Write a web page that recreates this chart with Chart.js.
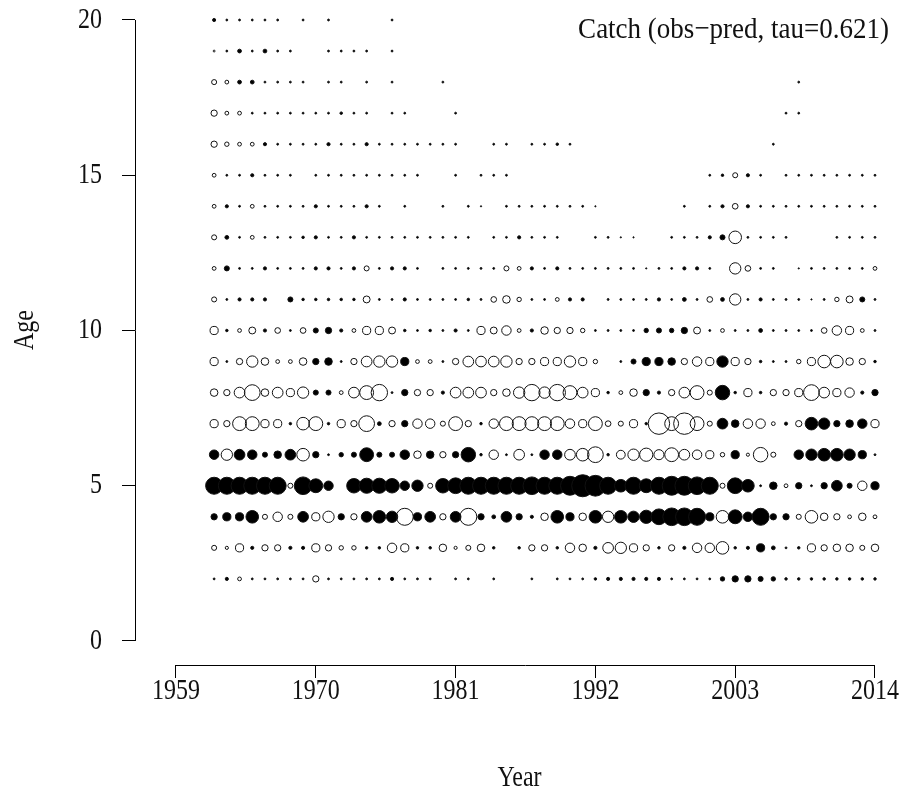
<!DOCTYPE html>
<html>
<head>
<meta charset="utf-8">
<script src="https://cdn.jsdelivr.net/npm/chart.js@4.4.1/dist/chart.umd.min.js"></script>
<style>
  html, body { margin: 0; padding: 0; background: #fff; }
  #wrap { width: 904px; height: 793px; }
</style>
</head>
<body>
<div id="wrap"><canvas id="c" width="904" height="793"></canvas></div>
<script>
// Catch-at-age residuals (obs - pred); open circles positive, filled negative.
const FIRST_YEAR = 1962;            // column 0 of every age row, one column per year to 2014
const yearTicks = [1959, 1970, 1981, 1992, 2003, 2014];
const ageTicks = [0, 5, 10, 15, 20];
const ages = [2, 3, 4, 5, 6, 7, 8, 9, 10, 11, 12, 13, 14, 15, 16, 17, 18, 19, 20];
const _ = null;

const age2 = [
  -0.3,-0.5,0.6,-0.3,-0.3,-0.3,-0.3,-0.3,1.0,-0.3,
  -0.3,-0.3,-0.3,-0.3,-0.5,-0.3,-0.3,-0.3,_,-0.3,
  -0.3,_,-0.3,_,_,-0.3,_,-0.3,-0.3,-0.3,
  -0.4,-0.5,-0.5,-0.5,-0.5,-0.5,-0.3,-0.3,-0.3,-0.3,
  -0.7,-1.0,-1.0,-0.8,-0.7,-0.4,-0.4,-0.4,-0.4,-0.4,
  -0.4,-0.4,-0.4];
const age3 = [
  0.8,0.5,1.3,-0.5,1.0,1.0,-0.5,-0.5,1.3,1.0,
  0.7,0.7,-0.4,-0.4,1.5,1.3,-0.4,-0.4,1.2,0.5,
  0.8,1.2,-0.4,_,-0.4,1.0,1.0,-0.4,1.5,1.2,
  -0.5,1.7,1.8,1.3,1.0,-0.4,1.0,-0.5,1.5,1.5,
  2.0,-0.4,-0.5,-1.3,-0.6,-0.3,-0.4,1.3,1.0,1.2,
  1.2,0.8,1.2];
const age4 = [
  -1.0,-1.3,-1.3,-2.0,0.8,1.5,0.8,-1.7,1.3,1.8,
  -1.0,1.0,-1.7,-2.0,-1.8,2.7,-1.3,-1.7,1.0,-1.7,
  2.7,-1.0,-0.6,-1.7,-1.0,-0.5,1.2,-2.0,-1.3,1.2,
  -2.0,1.8,-2.0,-1.8,-2.1,-2.5,-2.8,-2.8,-2.7,-1.3,
  2.0,-2.2,-1.5,-2.7,-1.0,-1.0,0.8,2.0,1.2,1.0,
  0.6,1.2,0.6];
const age5 = [
  -2.7,-2.7,-2.7,-2.7,-2.7,-2.7,0.8,-2.8,-2.2,-1.5,
  _,-2.3,-2.4,-2.4,-2.3,-1.5,-1.8,0.8,-2.3,-2.5,
  -2.7,-2.7,-2.7,-2.7,-2.7,-2.8,-2.7,-2.7,-3.0,-3.5,
  -3.3,-2.7,-2.0,-2.7,-2.2,-2.7,-3.0,-3.0,-2.8,-2.7,
  0.8,-2.5,-2.0,-0.3,-1.2,0.6,-1.0,-0.3,-1.0,-1.7,
  -0.8,1.5,-1.3];
const age6 = [
  -1.5,1.8,-1.7,-1.5,-0.8,-1.2,-1.7,2.0,-1.0,-0.3,
  -0.7,-0.8,-2.2,-0.8,-0.8,-1.5,1.2,-1.2,1.0,-1.0,
  -2.3,-0.4,1.5,-0.3,1.7,-0.3,-1.5,-1.5,1.7,2.0,
  2.5,-0.4,1.4,1.8,2.1,1.6,2.2,1.7,1.5,1.3,
  0.7,-1.3,0.5,2.3,0.8,_,-1.5,-1.8,-2.0,-2.0,
  -1.8,-1.3,-0.3];
const age7 = [
  1.3,1.0,2.2,2.2,1.3,1.3,-0.4,2.0,2.2,-0.4,
  1.3,1.0,2.5,-0.6,1.0,-1.0,1.5,1.5,0.8,2.2,
  1.0,-0.4,1.5,2.2,2.2,2.2,2.2,2.2,1.5,1.3,
  2.2,0.9,0.8,1.3,-0.4,3.4,2.2,3.4,2.2,0.8,
  -1.7,-1.2,1.5,1.5,0.6,-0.5,1.0,-2.0,-1.8,-1.0,
  -1.2,-1.5,1.3];
const age8 = [
  1.2,1.0,1.7,2.5,1.2,1.7,1.3,1.8,-0.8,-0.8,
  0.6,1.7,2.2,2.6,-0.3,-1.0,1.0,1.0,-0.5,1.7,
  1.7,1.7,1.0,1.2,1.8,2.6,1.8,2.6,2.2,1.7,
  1.3,-0.4,0.6,1.2,-1.0,-0.5,1.0,1.7,2.2,0.8,
  -2.3,-0.4,1.3,-0.4,1.0,1.0,1.3,2.5,1.7,1.3,
  1.5,-0.5,-1.0];
const age9 = [
  1.3,-0.3,1.0,1.8,1.2,0.6,0.6,1.2,-1.0,-1.2,
  -0.3,1.0,1.7,1.8,1.8,-1.3,0.6,0.6,-0.3,1.0,
  1.7,1.7,1.7,1.8,1.0,1.0,1.3,1.3,1.8,1.3,
  0.7,_,-0.3,-0.8,-1.3,-1.3,-1.2,1.0,1.5,1.3,
  -1.8,1.3,1.0,-0.4,-0.3,-0.3,0.7,1.3,2.0,2.0,
  1.2,1.0,-0.4];
const age10 = [
  1.3,-0.4,0.6,1.1,-0.5,0.9,-0.3,0.9,-0.8,-1.0,
  -0.5,0.6,1.3,1.3,1.1,-0.4,-0.3,-0.4,-0.3,-0.5,
  -0.3,1.3,1.1,1.5,0.6,-0.5,1.2,1.0,1.0,0.7,
  -0.3,-0.3,-0.3,-0.3,-0.7,-0.8,-0.7,-1.0,1.1,-0.3,
  0.6,-0.3,-0.3,-0.6,-0.3,-0.3,-0.3,-0.3,0.9,1.5,
  1.3,0.6,-0.3];
const age11 = [
  0.8,-0.3,-0.5,-0.5,-0.5,_,-0.8,-0.4,-0.4,-0.4,
  -0.4,-0.4,1.1,-0.3,-0.3,-0.5,-0.3,-0.3,-0.3,-0.3,
  -0.4,-0.3,0.9,1.2,0.7,-0.3,-0.3,0.6,-0.5,-0.5,
  _,-0.3,-0.3,-0.3,-0.3,-0.5,-0.3,-0.6,-0.3,0.9,
  -0.6,1.8,-0.3,-0.5,-0.3,-0.3,-0.3,-0.2,-0.3,0.7,
  1.1,-0.8,-0.3];
const age12 = [
  0.6,-0.8,-0.3,-0.3,-0.5,-0.3,-0.3,-0.3,-0.5,-0.5,
  -0.3,-0.5,0.8,-0.3,-0.5,-0.5,-0.3,_,-0.3,-0.3,
  -0.3,-0.3,-0.3,0.8,0.6,-0.5,-0.3,-0.5,-0.3,-0.3,
  -0.3,-0.3,-0.3,-0.3,-0.2,-0.3,-0.3,-0.5,-0.5,-0.3,
  _,1.8,0.9,-0.3,-0.3,_,-0.2,-0.3,-0.3,-0.3,
  -0.3,-0.3,0.6];
const age13 = [
  0.8,-0.6,-0.3,0.6,-0.3,-0.3,-0.3,-0.4,-0.5,-0.3,
  -0.3,-0.5,-0.3,-0.3,-0.3,-0.3,-0.3,-0.3,-0.3,-0.3,
  -0.3,_,-0.3,-0.3,-0.5,-0.3,-0.3,-0.3,_,_,
  -0.3,-0.3,-0.2,-0.2,_,_,-0.3,-0.3,-0.3,-0.5,
  -0.8,2.0,-0.3,-0.3,-0.3,-0.3,_,_,_,-0.3,
  -0.3,-0.3,-0.3];
const age14 = [
  0.6,-0.5,-0.3,0.6,-0.3,-0.3,-0.3,-0.3,-0.5,-0.3,
  -0.3,-0.3,-0.5,-0.3,_,-0.3,_,_,-0.3,_,
  -0.3,-0.2,_,-0.3,-0.3,-0.3,-0.3,-0.3,-0.3,-0.3,
  -0.2,_,_,_,_,_,_,-0.3,_,-0.3,
  -0.5,0.9,-0.5,-0.3,-0.3,-0.3,-0.3,-0.3,-0.3,-0.3,
  -0.3,-0.3,-0.3];
const age15 = [
  0.6,-0.3,-0.3,-0.5,-0.3,-0.3,-0.3,_,-0.3,-0.3,
  -0.3,-0.3,-0.3,-0.3,-0.3,-0.3,-0.3,_,_,-0.3,
  _,-0.3,-0.3,-0.3,_,_,_,_,_,_,
  _,_,_,_,_,_,_,_,_,-0.3,
  -0.4,0.8,-0.5,-0.3,_,-0.3,-0.3,-0.3,-0.3,-0.3,
  -0.3,-0.3,-0.3];
const age16 = [
  1.0,0.7,0.6,0.6,-0.5,-0.3,-0.3,-0.3,-0.3,-0.5,
  -0.3,-0.3,-0.5,-0.3,-0.3,-0.3,-0.3,-0.3,-0.3,-0.3,
  _,_,-0.3,-0.3,_,-0.3,-0.3,-0.4,-0.3,_,
  _,_,_,_,_,_,_,_,_,_,
  _,_,_,_,-0.3,_,_,_,_,_,
  _,_,_];
const age17 = [
  1.0,0.6,0.6,-0.3,-0.3,-0.3,-0.3,-0.3,-0.3,-0.3,
  -0.4,-0.3,-0.3,_,-0.3,-0.3,_,_,_,-0.3,
  _,_,_,_,_,_,_,_,_,_,
  _,_,_,_,_,_,_,_,_,_,
  _,_,_,_,_,-0.3,-0.3,_,_,_,
  _,_,_];
const age18 = [
  0.8,0.6,-0.6,-0.6,-0.3,-0.3,-0.3,-0.3,_,-0.3,
  -0.3,_,-0.3,_,-0.3,_,_,_,-0.3,_,
  _,_,_,_,_,_,_,_,_,_,
  _,_,_,_,_,_,_,_,_,_,
  _,_,_,_,_,_,-0.3,_,_,_,
  _,_,_];
const age19 = [
  0.3,-0.3,-0.6,-0.3,-0.6,-0.3,-0.3,_,_,-0.3,
  -0.3,-0.3,-0.3,_,-0.3,_,_,_,_,_,
  _,_,_,_,_,_,_,_,_,_,
  _,_,_,_,_,_,_,_,_,_,
  _,_,_,_,_,_,_,_,_,_,
  _,_,_];
const age20 = [
  -0.5,-0.3,-0.3,-0.3,-0.3,-0.3,_,-0.3,_,-0.3,
  _,_,_,_,-0.3,_,_,_,_,_,
  _,_,_,_,_,_,_,_,_,_,
  _,_,_,_,_,_,_,_,_,_,
  _,_,_,_,_,_,_,_,_,_,
  _,_,_];

const residRows = [age2, age3, age4, age5, age6, age7, age8, age9, age10, age11,
                   age12, age13, age14, age15, age16, age17, age18, age19, age20];

const points = [];
residRows.forEach((row, k) => {
  row.forEach((v, i) => {
    if (v !== null) points.push({ x: FIRST_YEAR + i, y: ages[k], v });
  });
});

// bubble radius grows with |residual|
const bubbleRadius = v => 3.15 * Math.abs(v);

const SERIF = '"Liberation Serif", "Times New Roman", serif';

function tallText(ctx, text, x, y, size, sy, align, rot) {
  ctx.save();
  ctx.translate(x, y);
  if (rot) ctx.rotate(rot);
  ctx.scale(1, sy);
  ctx.font = size + 'px ' + SERIF;
  ctx.textAlign = align;
  ctx.textBaseline = 'middle';
  ctx.fillStyle = '#111';
  ctx.fillText(text, 0, 0);
  ctx.restore();
}

// R-style detached axes: lines span only first..last tick, labels in serif
const baseAxes = {
  id: 'baseAxes',
  afterDraw(chart) {
    const { ctx, scales: { x, y }, chartArea } = chart;
    ctx.save();
    ctx.strokeStyle = '#000';
    ctx.lineWidth = 1;
    const yb = Math.round(chartArea.bottom) + 0.5;
    const xl = Math.round(chartArea.left) + 0.5;
    ctx.beginPath();
    ctx.moveTo(x.getPixelForValue(yearTicks[0]), yb);
    ctx.lineTo(x.getPixelForValue(yearTicks[yearTicks.length - 1]), yb);
    ctx.moveTo(xl, y.getPixelForValue(ageTicks[0]));
    ctx.lineTo(xl, y.getPixelForValue(ageTicks[ageTicks.length - 1]));
    ctx.stroke();
    ctx.restore();

    x.ticks.forEach(t => tallText(ctx, String(t.value), x.getPixelForValue(t.value), 691, 24, 1.2, 'center'));
    y.ticks.forEach(t => tallText(ctx, String(t.value), 102, y.getPixelForValue(t.value), 24, 1.2, 'right'));
    tallText(ctx, 'Year', (chartArea.left + chartArea.right) / 2, 778, 24, 1.2, 'center');
    tallText(ctx, 'Age', 25, 330, 24, 1.2, 'center', -Math.PI / 2);
    tallText(ctx, 'Catch (obs\u2212pred, tau=0.621)', 889, 30, 27, 1.12, 'right');
  }
};

new Chart(document.getElementById('c'), {
  type: 'scatter',
  data: {
    datasets: [{
      data: points,
      pointRadius: c => bubbleRadius(c.raw.v),
      pointHoverRadius: c => bubbleRadius(c.raw.v),
      pointBackgroundColor: c => (c.raw.v < 0 ? '#000' : 'rgba(0,0,0,0)'),
      pointBorderColor: '#111',
      pointBorderWidth: 1
    }]
  },
  options: {
    responsive: false,
    animation: false,
    events: [],
    layout: { padding: 0, autoPadding: false },
    plugins: { legend: { display: false }, tooltip: { enabled: false } },
    scales: {
      x: {
        type: 'linear',
        position: 'bottom',
        min: 1955.774,
        max: 2016.282,
        afterBuildTicks: s => { s.ticks = yearTicks.map(value => ({ value })); },
        afterFit: s => { s.height = 128; },
        ticks: { display: false },
        grid: { drawOnChartArea: false, drawTicks: true, tickLength: 13, color: '#000', tickColor: '#000', lineWidth: 1 },
        border: { display: false }
      },
      y: {
        type: 'linear',
        position: 'left',
        min: -0.773,
        max: 20.644,
        afterBuildTicks: s => { s.ticks = ageTicks.map(value => ({ value })); },
        afterFit: s => { s.width = 135; },
        ticks: { display: false },
        grid: { drawOnChartArea: false, drawTicks: true, tickLength: 13, color: '#000', tickColor: '#000', lineWidth: 1 },
        border: { display: false }
      }
    }
  },
  plugins: [baseAxes]
});
</script>
</body>
</html>
